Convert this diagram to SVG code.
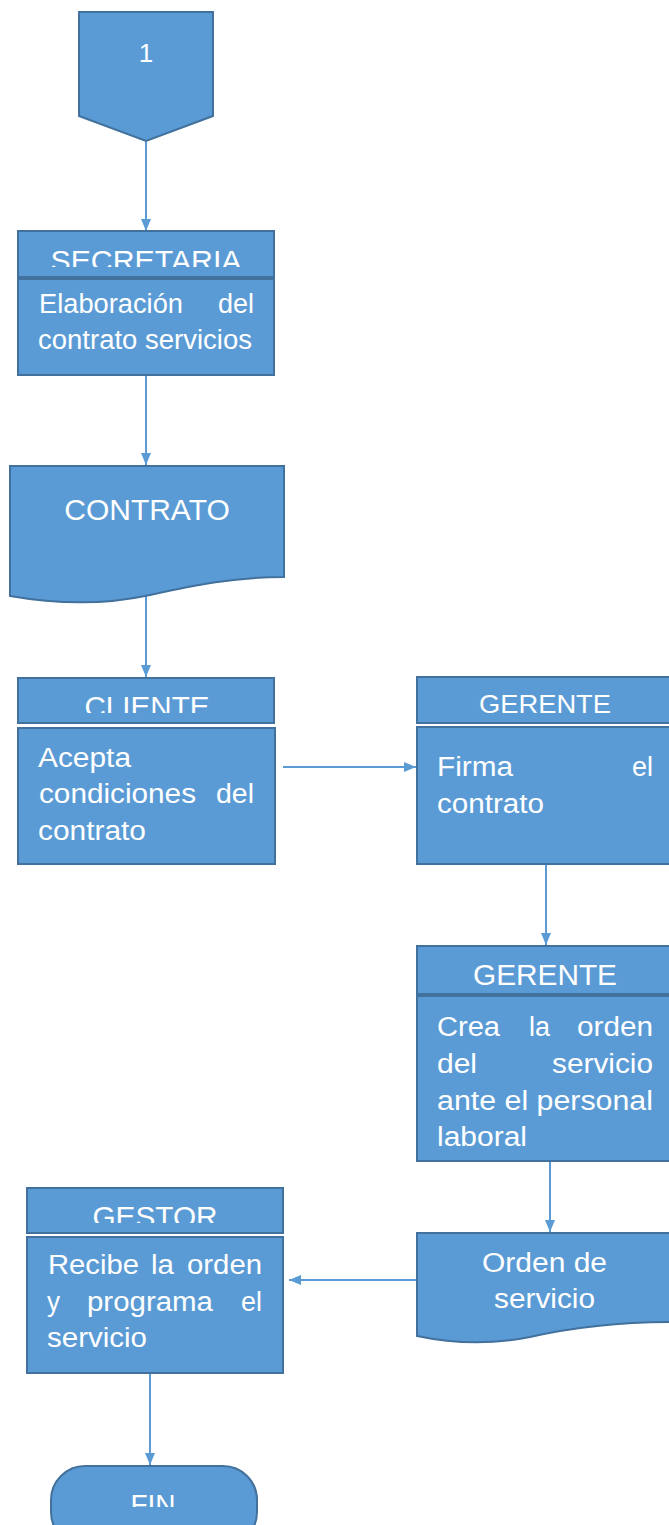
<svg xmlns="http://www.w3.org/2000/svg" width="669" height="1525" viewBox="0 0 669 1525">
<style>
.s{fill:#5B9BD5;stroke:#41719C;stroke-width:2}
.t{fill:#FFFFFF;font-family:"Liberation Sans",Arial,sans-serif;font-size:27px}
.h{fill:#FFFFFF;font-family:"Liberation Sans",Arial,sans-serif;font-size:29px;text-anchor:middle}
.c{fill:none;stroke:#5B9BD5;stroke-width:2}
</style>
<defs>
<marker id="ar" viewBox="0 0 12 10" refX="12" refY="5" markerWidth="12" markerHeight="10" orient="auto" markerUnits="userSpaceOnUse">
<path d="M0,0 L12,5 L0,10 Z" fill="#5B9BD5"/>
</marker>
<clipPath id="cSec"><rect x="0" y="230" width="300" height="37"/></clipPath>
<clipPath id="cCli"><rect x="0" y="677" width="300" height="36"/></clipPath>
<clipPath id="cGes"><rect x="0" y="1187" width="300" height="36"/></clipPath>
<clipPath id="cFin"><rect x="0" y="1466" width="300" height="41"/></clipPath>
</defs>

<g id="connectors">
<line class="c" x1="146" y1="141" x2="146" y2="231" marker-end="url(#ar)"/>
<line class="c" x1="146" y1="375" x2="146" y2="465" marker-end="url(#ar)"/>
<line class="c" x1="146" y1="596" x2="146" y2="677" marker-end="url(#ar)"/>
<line class="c" x1="283" y1="767" x2="416" y2="767" marker-end="url(#ar)"/>
<line class="c" x1="546" y1="864" x2="546" y2="945" marker-end="url(#ar)"/>
<line class="c" x1="550" y1="1161" x2="550" y2="1232" marker-end="url(#ar)"/>
<line class="c" x1="417" y1="1280" x2="289" y2="1280" marker-end="url(#ar)"/>
<line class="c" x1="150" y1="1373" x2="150" y2="1465" marker-end="url(#ar)"/>
</g>

<g id="n-start">
<path class="s" d="M79,12 H213 V116 L146,141 L79,116 Z"/>
<text class="h" x="146" y="62" style="font-size:26px">1</text>
</g>

<g id="n-secretaria">
<rect class="s" x="18" y="231" width="256" height="46"/>
<text class="h" x="146" y="271" clip-path="url(#cSec)" textLength="191" lengthAdjust="spacingAndGlyphs">SECRETARIA</text>
<rect class="s" x="18" y="279" width="256" height="96"/>
<text class="t" x="39" y="313" textLength="144" lengthAdjust="spacingAndGlyphs">Elaboración</text>
<text class="t" x="218" y="313" textLength="36" lengthAdjust="spacingAndGlyphs">del</text>
<text class="t" x="38" y="349" textLength="214" lengthAdjust="spacingAndGlyphs">contrato servicios</text>
</g>

<g id="n-contrato">
<path class="s" d="M10,466 H284 V577 C235,577 195,585 150,595 C100,606 50,603 10,596 Z"/>
<text class="h" x="147" y="520" style="font-size:30px">CONTRATO</text>
</g>

<g id="n-cliente">
<rect class="s" x="18" y="678" width="256" height="45"/>
<text class="h" x="147" y="717" clip-path="url(#cCli)" textLength="125" lengthAdjust="spacingAndGlyphs">CLIENTE</text>
<rect class="s" x="18" y="728" width="257" height="136"/>
<text class="t" x="38" y="767" textLength="93" lengthAdjust="spacingAndGlyphs">Acepta</text>
<text class="t" x="39" y="803" textLength="157" lengthAdjust="spacingAndGlyphs">condiciones</text>
<text class="t" x="216" y="803" textLength="38" lengthAdjust="spacingAndGlyphs">del</text>
<text class="t" x="38" y="840" textLength="108" lengthAdjust="spacingAndGlyphs">contrato</text>
</g>

<g id="n-gerente1">
<rect class="s" x="417" y="677" width="256" height="46"/>
<text class="h" x="545" y="713" textLength="132" lengthAdjust="spacingAndGlyphs" style="font-size:26px">GERENTE</text>
<rect class="s" x="417" y="727" width="256" height="137"/>
<text class="t" x="437" y="776" textLength="76" lengthAdjust="spacingAndGlyphs">Firma</text>
<text class="t" x="632" y="776" textLength="21" lengthAdjust="spacingAndGlyphs">el</text>
<text class="t" x="437" y="813" textLength="107" lengthAdjust="spacingAndGlyphs">contrato</text>
</g>

<g id="n-gerente2">
<rect class="s" x="417" y="946" width="256" height="48"/>
<text class="h" x="545" y="985" textLength="144" lengthAdjust="spacingAndGlyphs" style="font-size:30px">GERENTE</text>
<rect class="s" x="417" y="996" width="256" height="165"/>
<text class="t" x="437" y="1036" textLength="63" lengthAdjust="spacingAndGlyphs">Crea</text>
<text class="t" x="529" y="1036" textLength="21" lengthAdjust="spacingAndGlyphs">la</text>
<text class="t" x="577" y="1036" textLength="76" lengthAdjust="spacingAndGlyphs">orden</text>
<text class="t" x="437" y="1073" textLength="40" lengthAdjust="spacingAndGlyphs">del</text>
<text class="t" x="552" y="1073" textLength="101" lengthAdjust="spacingAndGlyphs">servicio</text>
<text class="t" x="437" y="1110" textLength="216" lengthAdjust="spacingAndGlyphs">ante el personal</text>
<text class="t" x="437" y="1146" textLength="90" lengthAdjust="spacingAndGlyphs">laboral</text>
</g>

<g id="n-orden">
<path class="s" d="M417,1233 H673 V1322 C620,1322 570,1328 530,1337 C490,1345 450,1343 417,1336 Z"/>
<text class="t" x="482" y="1272" textLength="125" lengthAdjust="spacingAndGlyphs">Orden de</text>
<text class="t" x="494" y="1308" textLength="101" lengthAdjust="spacingAndGlyphs">servicio</text>
</g>

<g id="n-gestor">
<rect class="s" x="27" y="1188" width="256" height="45"/>
<text class="h" x="155" y="1227" clip-path="url(#cGes)" textLength="125" lengthAdjust="spacingAndGlyphs">GESTOR</text>
<rect class="s" x="27" y="1237" width="256" height="136"/>
<text class="t" x="48" y="1274" textLength="91" lengthAdjust="spacingAndGlyphs">Recibe</text>
<text class="t" x="151" y="1274" textLength="23" lengthAdjust="spacingAndGlyphs">la</text>
<text class="t" x="187" y="1274" textLength="75" lengthAdjust="spacingAndGlyphs">orden</text>
<text class="t" x="47" y="1311" textLength="13" lengthAdjust="spacingAndGlyphs">y</text>
<text class="t" x="87" y="1311" textLength="126" lengthAdjust="spacingAndGlyphs">programa</text>
<text class="t" x="241" y="1311" textLength="21" lengthAdjust="spacingAndGlyphs">el</text>
<text class="t" x="47" y="1347" textLength="100" lengthAdjust="spacingAndGlyphs">servicio</text>
</g>

<g id="n-fin">
<rect class="s" x="51" y="1466" width="206" height="80" rx="34" ry="34"/>
<text class="h" x="153" y="1514" clip-path="url(#cFin)" style="font-size:28px">FIN</text>
</g>
</svg>
